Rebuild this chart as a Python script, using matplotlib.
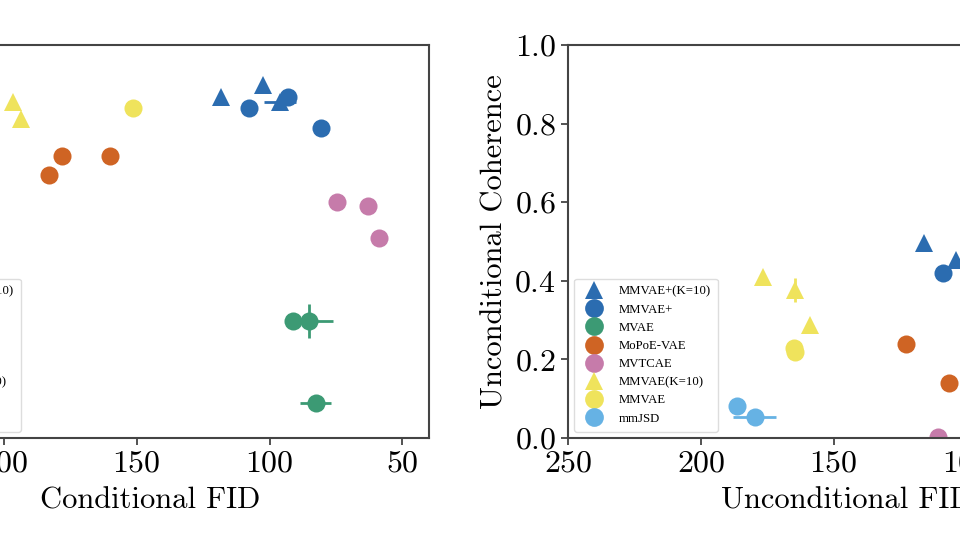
import matplotlib
matplotlib.use("Agg")
import matplotlib.pyplot as plt
from matplotlib.lines import Line2D

plt.rcParams["font.family"] = "serif"
plt.rcParams["font.serif"] = ["cmr10", "DejaVu Serif"]
plt.rcParams["mathtext.fontset"] = "cm"
plt.rcParams["axes.formatter.use_mathtext"] = True

models = ["MMVAE+(K=10)", "MMVAE+", "MVAE", "MoPoE-VAE", "MVTCAE",
          "MMVAE(K=10)", "MMVAE", "mmJSD"]
colors = ["#2B6CB0", "#2B6CB0", "#3C9A74", "#CF6424", "#C67BAA",
          "#EFE35C", "#EFE35C", "#66B2E4"]
markers = ["^", "o", "o", "o", "o", "^", "o", "o"]

# conditional panel: FID, coherence, errors
cond_fid = {
    "MMVAE+(K=10)": [118.4, 102.6, 96.2],
    "MMVAE+": [107.9, 92.9, 80.8],
    "MVAE": [91.0, 85.3, 82.7],
    "MoPoE-VAE": [178.2, 183.1, 160.2],
    "MVTCAE": [74.8, 62.8, 59.0],
    "MMVAE(K=10)": [196.6, 193.6],
    "MMVAE": [151.5],
    "mmJSD": [],
}
cond_coh = {
    "MMVAE+(K=10)": [0.868, 0.898, 0.855],
    "MMVAE+": [0.840, 0.868, 0.789],
    "MVAE": [0.298, 0.298, 0.089],
    "MoPoE-VAE": [0.717, 0.669, 0.717],
    "MVTCAE": [0.600, 0.590, 0.509],
    "MMVAE(K=10)": [0.855, 0.812],
    "MMVAE": [0.840],
    "mmJSD": [],
}
cond_fid_err = {
    "MMVAE+(K=10)": [0.0, 0.0, 6.0],
    "MMVAE+": [0.0, 1.5, 0.0],
    "MVAE": [1.5, 9.0, 6.0],
    "MoPoE-VAE": [0.0, 0.0, 2.0],
    "MVTCAE": [0.0, 0.0, 0.0],
    "MMVAE(K=10)": [0.0, 0.0],
    "MMVAE": [2.0],
    "mmJSD": [],
}
cond_coh_err = {
    "MMVAE+(K=10)": [0.0, 0.0, 0.0],
    "MMVAE+": [0.0, 0.0, 0.0],
    "MVAE": [0.0, 0.043, 0.0],
    "MoPoE-VAE": [0.0, 0.0, 0.0],
    "MVTCAE": [0.0, 0.0, 0.0],
    "MMVAE(K=10)": [0.0, 0.008],
    "MMVAE": [0.0],
    "mmJSD": [],
}

# unconditional panel
unc_fid = {
    "MMVAE+(K=10)": [116.0, 104.0],
    "MMVAE+": [108.9],
    "MVAE": [],
    "MoPoE-VAE": [122.8, 106.6],
    "MVTCAE": [110.8],
    "MMVAE(K=10)": [176.8, 164.7, 159.1],
    "MMVAE": [165.1, 164.5],
    "mmJSD": [186.6, 179.8],
}
unc_coh = {
    "MMVAE+(K=10)": [0.496, 0.453],
    "MMVAE+": [0.420],
    "MVAE": [],
    "MoPoE-VAE": [0.240, 0.140],
    "MVTCAE": [0.003],
    "MMVAE(K=10)": [0.410, 0.377, 0.288],
    "MMVAE": [0.229, 0.220],
    "mmJSD": [0.081, 0.054],
}
unc_fid_err = {
    "MMVAE+(K=10)": [0.0, 0.0],
    "MMVAE+": [0.0],
    "MVAE": [],
    "MoPoE-VAE": [0.0, 0.0],
    "MVTCAE": [0.0],
    "MMVAE(K=10)": [0.0, 0.0, 0.0],
    "MMVAE": [0.0, 0.0],
    "mmJSD": [0.0, 8.0],
}
unc_coh_err = {
    "MMVAE+(K=10)": [0.0, 0.0],
    "MMVAE+": [0.0],
    "MVAE": [],
    "MoPoE-VAE": [0.0, 0.0],
    "MVTCAE": [0.0],
    "MMVAE(K=10)": [0.0, 0.03, 0.0],
    "MMVAE": [0.0, 0.0],
    "mmJSD": [0.0, 0.0],
}

fig = plt.figure(figsize=(9.6, 5.4), dpi=100)
ax1 = fig.add_axes([-0.1344, 0.1889, 0.5813, 0.7278])
ax2 = fig.add_axes([0.5917, 0.1889, 0.5813, 0.7278])


def draw(ax, xs, ys, xe, ye):
    for m, c, mk in zip(models, colors, markers):
        for x, y, ex, ey in zip(xs[m], ys[m], xe[m], ye[m]):
            ax.errorbar(x, y, xerr=ex, yerr=ey, fmt=mk, color=c,
                        markersize=13, markeredgewidth=0, elinewidth=2,
                        capsize=0)


draw(ax1, cond_fid, cond_coh, cond_fid_err, cond_coh_err)
draw(ax2, unc_fid, unc_coh, unc_fid_err, unc_coh_err)

handles = [Line2D([], [], linestyle="none", marker=mk, color=c,
                  markersize=13.5, markeredgewidth=0)
           for c, mk in zip(colors, markers)]

for ax, xl, yl in [(ax1, "Conditional FID", "Conditional Coherence"),
                   (ax2, "Unconditional FID", "Unconditional Coherence")]:
    ax.set_xlim(250, 40)
    ax.set_ylim(0, 1)
    ax.set_xticks([250, 200, 150, 100, 50])
    ax.set_yticks([0.0, 0.2, 0.4, 0.6, 0.8, 1.0])
    ax.set_xlabel(xl, fontsize=22, labelpad=7)
    ax.set_ylabel(yl, fontsize=22)
    ax.tick_params(labelsize=23, width=1.3, length=5, color="#444444")
    for s in ax.spines.values():
        s.set_linewidth(1.5)
        s.set_color("#444444")
    leg = ax.legend(handles, models, loc="lower left",
                    prop={"family": "Liberation Serif", "size": 9.2},
                    labelspacing=0.48, handletextpad=0.9, borderpad=0.55,
                    framealpha=1, edgecolor="#dddddd")

fig.savefig("out.png", dpi=100)
